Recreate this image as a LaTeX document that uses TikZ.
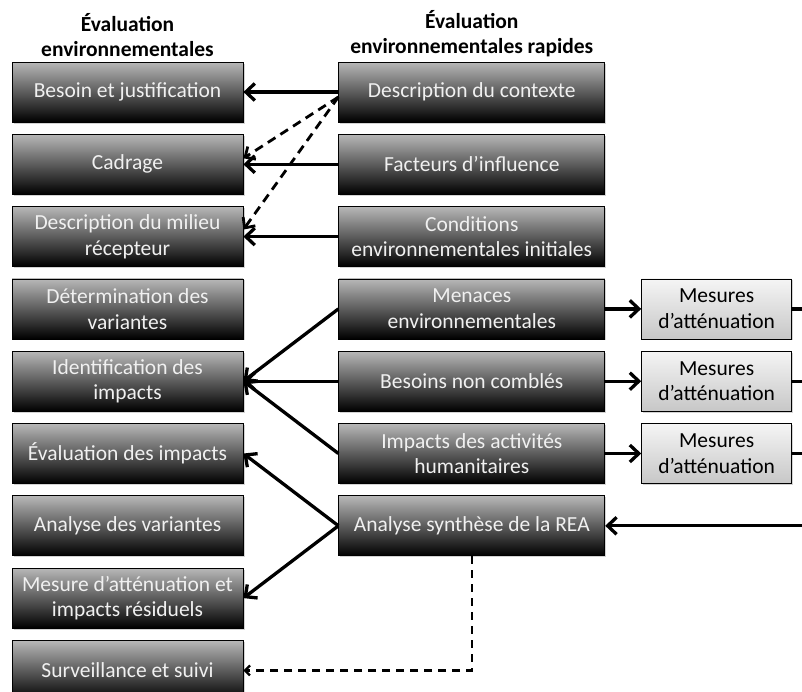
\documentclass[tikz,border=0pt]{standalone}
\usepackage{fontspec}
\setmainfont{Carlito}
\usetikzlibrary{arrows.meta,positioning,shadows}

\begin{document}
\begin{tikzpicture}[
  x=1pt, y=1pt,
  node distance=11.5pt and 95pt,
  ea/.style={draw=black, line width=0.8pt, top color=black!28, bottom color=black,
    text=black!6, align=center, minimum width=231pt, minimum height=60pt,
    inner sep=2pt, font=\fontsize{21.5}{25.5}\selectfont,
    drop shadow={opacity=0.35, shadow xshift=1.5pt, shadow yshift=-1.5pt}},
  rea/.style={ea, minimum width=266pt},
  mesure/.style={ea, top color=black!4, bottom color=black!22, text=black,
    minimum width=150pt},
  head/.style={align=center, font=\bfseries\fontsize{21.5}{25}\selectfont},
  arrow/.style={line width=3.3pt, -{Straight Barb[length=9pt,width=17pt]}},
  dasharrow/.style={line width=2.8pt, dash pattern=on 9pt off 6pt,
    -{Straight Barb[length=8pt,width=15pt]}},
  thindash/.style={line width=2.3pt, dash pattern=on 8pt off 6pt,
    -{Straight Barb[length=5pt,width=10pt]}}
]
\useasboundingbox (0,0) rectangle (802,-691);

% colonne EE
\node[ea] (besoin) at (127.5,-92) {Besoin et justification};
\node[ea, below=of besoin] (cadrage) {Cadrage};
\node[ea, below=of cadrage] (milieu) {Description du milieu\\récepteur};
\node[ea, below=of milieu] (variantes) {Détermination des\\variantes};
\node[ea, below=of variantes] (identif) {Identification des\\impacts};
\node[ea, below=of identif] (evalimp) {Évaluation des impacts};
\node[ea, below=of evalimp] (analvar) {Analyse des variantes};
\node[ea, below=of analvar] (attenu) {Mesure d’atténuation et\\impacts résiduels};
\node[ea, below=of attenu] (suivi) {Surveillance et suivi};

% colonne REA
\node[rea, right=of besoin] (contexte) {Description du contexte};
\node[rea, below=of contexte] (facteurs) {Facteurs d’influence};
\node[rea, below=of facteurs] (conditions) {Conditions\\environnementales initiales};
\node[rea, below=of conditions] (menaces) {Menaces\\environnementales};
\node[rea, below=of menaces] (besoins) {Besoins non comblés};
\node[rea, below=of besoins] (humanit) {Impacts des activités\\humanitaires};
\node[rea, below=of humanit] (synthese) {Analyse synthèse de la REA};

% mesures
\node[mesure, right=36pt of menaces] (mes1) {Mesures\\d’atténuation};
\node[mesure, right=36pt of besoins] (mes2) {Mesures\\d’atténuation};
\node[mesure, right=36pt of humanit] (mes3) {Mesures\\d’atténuation};

% titres
\node[head, above=1pt of besoin] (titreea) {Évaluation\\environnementales};
\node[head, above=1pt of contexte] (titrerea) {Évaluation\\environnementales rapides};

\coordinate (edge) at (802,0);
\coordinate (out1) at (mes1.east -| edge);
\coordinate (out2) at (mes2.east -| edge);
\coordinate (out3) at (mes3.east -| edge);
\coordinate (in4) at (synthese.east -| edge);

\draw[arrow] (contexte) -- (besoin);
\draw[arrow] (facteurs) -- (cadrage);
\draw[arrow] (conditions) -- (milieu);
\draw[dasharrow] ([yshift=-5pt]contexte.west) -- ([yshift=6pt]cadrage.east);
\draw[dasharrow] ([yshift=-5pt]contexte.west) -- ([yshift=7pt]milieu.east);

\draw[arrow] (menaces.west) -- (identif.east);
\draw[arrow] (besoins.west) -- (identif.east);
\draw[arrow] (humanit.west) -- (identif.east);
\draw[arrow] (synthese.west) -- (evalimp.east);
\draw[arrow] (synthese.west) -- (attenu.east);
\draw[thindash] (synthese.south) |- (suivi.east);

\draw[arrow] (menaces) -- (mes1);
\draw[arrow] (besoins) -- (mes2);
\draw[arrow] (humanit) -- (mes3);
\draw[line width=3.3pt] (mes1) -- (out1);
\draw[line width=3.3pt] (mes2) -- (out2);
\draw[line width=3.3pt] (mes3) -- (out3);
\draw[arrow] (in4) -- (synthese);
\end{tikzpicture}
\end{document}
